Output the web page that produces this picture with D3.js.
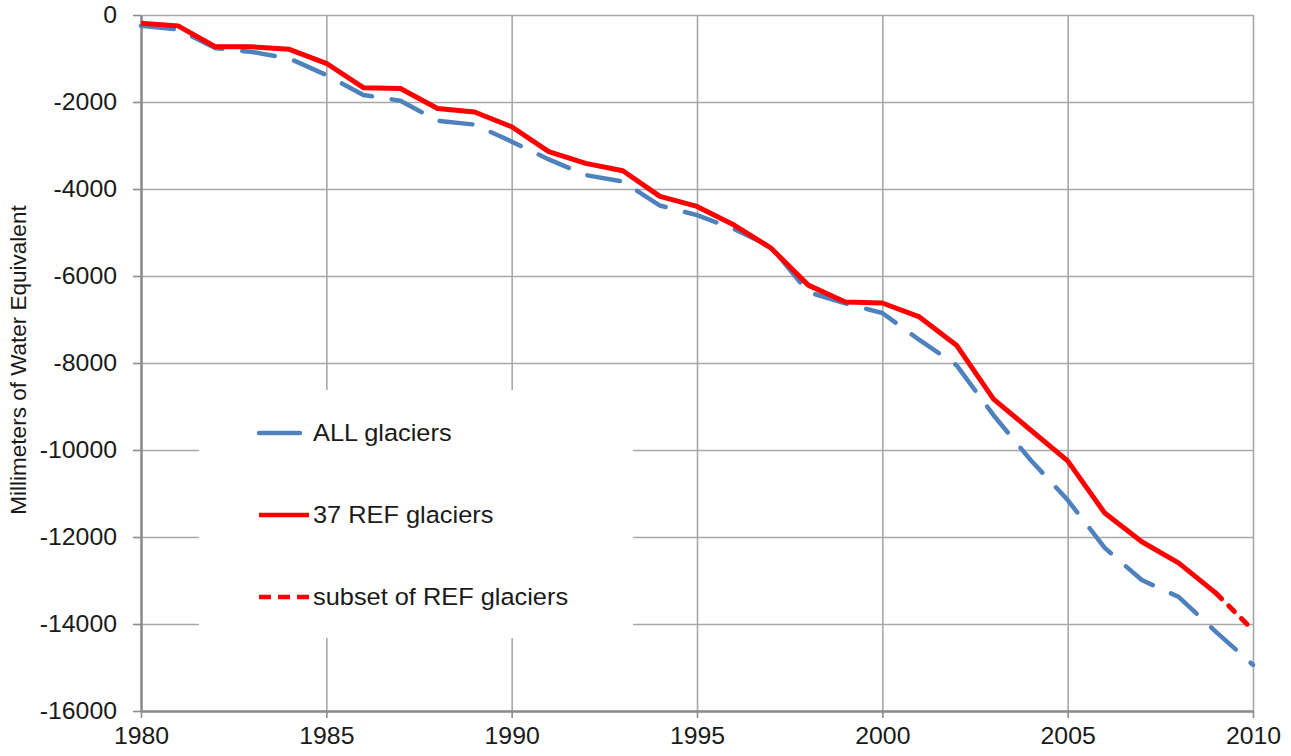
<!DOCTYPE html>
<html>
<head>
<meta charset="utf-8">
<script src="https://cdn.jsdelivr.net/npm/d3@7"></script>
<style>
  body { margin: 0; background: #fff; }
  text { font-family: "Liberation Sans", Arial, sans-serif; fill: #1a1a1a; }
</style>
</head>
<body>
<div id="chart"></div>
<script>
// Data
var years = d3.range(1980, 2011);
var allGlaciers = [-250, -330, -760, -850, -1000, -1380, -1840, -1970, -2430, -2520,
    -2910, -3320, -3680, -3830, -4380, -4600, -4920, -5330, -6370, -6630,
    -6850, -7470, -8050, -9200, -10230, -11150, -12250, -12990, -13380, -14180, -14940];
// 37 REF glaciers, 1980-2009
var refGlaciers = [-190, -250, -730, -730, -790, -1110, -1670, -1690, -2150, -2230,
    -2570, -3140, -3410, -3580, -4170, -4400, -4830, -5360, -6210, -6600,
    -6620, -6940, -7590, -8830, -9540, -10250, -11450, -12110, -12600, -13290];
// subset of REF glaciers, 2009-2010
var subsetYears = [2009, 2010];
var subsetRef = [-13290, -14140];
var yTicks = [0, -2000, -4000, -6000, -8000, -10000, -12000, -14000, -16000];
var xTicks = [1980, 1985, 1990, 1995, 2000, 2005, 2010];
var legendLabels = ["ALL glaciers", "37 REF glaciers", "subset of REF glaciers"];

var svgWidth = 1291;
var svgHeight = 756;
var margin = { top: 15, right: 38, bottom: 45, left: 141 };
var chartWidth = svgWidth - margin.left - margin.right;
var chartHeight = svgHeight - margin.top - margin.bottom;
var stretch = 1.08; // text in the picture is a bit wider than plain Arial

var svg = d3.select("#chart")
    .append("svg")
    .attr("width", svgWidth)
    .attr("height", svgHeight);

var chartGroup = svg.append("g")
    .attr("transform", `translate(${margin.left}, ${margin.top})`);

var xScale = d3.scaleLinear().domain([1980, 2010]).range([0, chartWidth]);
var yScale = d3.scaleLinear().domain([-16000, 0]).range([chartHeight, 0]);

// gridlines
var xGrid = chartGroup.append("g")
    .call(d3.axisBottom(xScale).tickValues(xTicks).tickSize(chartHeight).tickFormat(""));
xGrid.select(".domain").remove();
xGrid.selectAll("line").attr("stroke", "#a8a8a8").attr("stroke-width", 1.6);

var yGrid = chartGroup.append("g")
    .call(d3.axisRight(yScale).tickValues(yTicks).tickSize(chartWidth).tickFormat(""));
yGrid.select(".domain").remove();
yGrid.selectAll("line").attr("stroke", "#a8a8a8").attr("stroke-width", 1.6);

// axes
var xAxis = chartGroup.append("g")
    .attr("transform", `translate(0, ${chartHeight})`)
    .call(d3.axisBottom(xScale).tickValues(xTicks).tickSize(7).tickSizeOuter(0).tickPadding(10).tickFormat(d => String(d)));
xAxis.select(".domain").attr("stroke", "#8c8c8c").attr("stroke-width", 2.5);
xAxis.selectAll("line").attr("stroke", "#8c8c8c").attr("stroke-width", 1.6);
xAxis.selectAll("text")
    .style("font-size", "23px")
    .attr("fill", "#1a1a1a")
    .attr("transform", `scale(${stretch},1)`);

var yAxis = chartGroup.append("g")
    .call(d3.axisLeft(yScale).tickValues(yTicks).tickSize(8).tickSizeOuter(0).tickFormat(d => String(d)));
yAxis.select(".domain").attr("stroke", "#8c8c8c").attr("stroke-width", 2.5);
yAxis.selectAll("line").attr("stroke", "#8c8c8c").attr("stroke-width", 1.6);
yAxis.selectAll("text")
    .style("font-size", "23px")
    .attr("fill", "#1a1a1a")
    .attr("x", -24 / stretch)
    .attr("transform", `scale(${stretch},1)`);

// y axis title
svg.append("text")
    .attr("transform", "translate(26, 360) rotate(-90)")
    .attr("text-anchor", "middle")
    .style("font-size", "22.5px")
    .text("Millimeters of Water Equivalent");

// legend box hides the gridlines behind it
chartGroup.append("rect")
    .attr("x", 199 - margin.left)
    .attr("y", 390 - margin.top)
    .attr("width", 434)
    .attr("height", 248)
    .attr("fill", "#fff");

// lines
var line = d3.line()
    .x(d => xScale(d[0]))
    .y(d => yScale(d[1]));

chartGroup.append("path")
    .datum(years.map((y, i) => [y, allGlaciers[i]]))
    .attr("d", line)
    .attr("fill", "none")
    .attr("stroke", "#4f81bd")
    .attr("stroke-width", 4.5)
    .attr("stroke-linecap", "round")
    .attr("stroke-linejoin", "round")
    .attr("stroke-dasharray", "33,20");

chartGroup.append("path")
    .datum(refGlaciers.map((v, i) => [years[i], v]))
    .attr("d", line)
    .attr("fill", "none")
    .attr("stroke", "#ff0000")
    .attr("stroke-width", 5)
    .attr("stroke-linejoin", "round");

chartGroup.append("path")
    .datum(subsetYears.map((y, i) => [y, subsetRef[i]]))
    .attr("d", line)
    .attr("fill", "none")
    .attr("stroke", "#ff0000")
    .attr("stroke-width", 5)
    .attr("stroke-linecap", "round")
    .attr("stroke-dasharray", "8,10");

// legend
var legendStyles = [
    { color: "#4f81bd", dash: null, cap: "round", x2: 300 },
    { color: "#ff0000", dash: null, cap: "butt", x2: 309 },
    { color: "#ff0000", dash: "12,7", cap: "butt", x2: 309 }
];
var legendY = [433, 515, 597];

legendLabels.forEach(function(label, i) {
    svg.append("line")
        .attr("x1", 259)
        .attr("x2", legendStyles[i].x2)
        .attr("y1", legendY[i])
        .attr("y2", legendY[i])
        .attr("stroke", legendStyles[i].color)
        .attr("stroke-width", 4.5)
        .attr("stroke-linecap", legendStyles[i].cap)
        .attr("stroke-dasharray", legendStyles[i].dash);
    svg.append("text")
        .attr("x", 313 / stretch)
        .attr("y", legendY[i])
        .attr("dy", "0.35em")
        .attr("transform", `scale(${stretch},1)`)
        .style("font-size", "23.5px")
        .text(label);
});
</script>
</body>
</html>
